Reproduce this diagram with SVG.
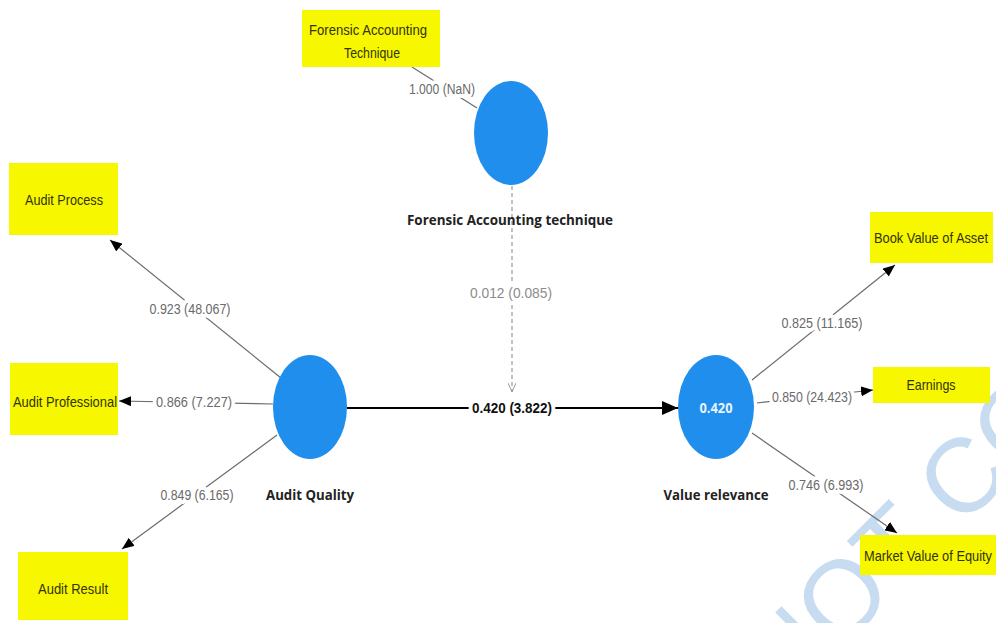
<svg xmlns="http://www.w3.org/2000/svg" width="996" height="623" viewBox="0 0 996 623">
<defs>
<marker id="ah" markerWidth="12" markerHeight="10" refX="12" refY="5" orient="auto" markerUnits="userSpaceOnUse"><path d="M0,0 L12,5 L0,10 z" fill="#000"/></marker>
<marker id="ahm" markerWidth="16" markerHeight="14" refX="16" refY="7" orient="auto" markerUnits="userSpaceOnUse"><path d="M0,0 L16,7 L0,14 z" fill="#000"/></marker>
<marker id="aho" markerWidth="10" markerHeight="8" refX="9" refY="4" orient="auto" markerUnits="userSpaceOnUse"><path d="M0,0 L9,4 L0,8" fill="none" stroke="#999" stroke-width="1"/></marker>
</defs>
<style>
.box{fill:#f7f700}
.bt{font-family:"Liberation Sans",Arial,sans-serif;font-size:15px;fill:#33330a;text-anchor:middle}
.circ{fill:#1f8eec}
.cl{font-family:"Open Sans","Liberation Sans",sans-serif;font-size:15px;font-weight:bold;fill:#222;text-anchor:middle}
.ind{stroke:#6b6b6b;stroke-width:1.2;fill:none}
.wl{font-family:"Liberation Sans",Arial,sans-serif;font-size:14px;fill:#6a6a6a;text-anchor:middle;stroke:#fff;stroke-width:8px;paint-order:stroke;stroke-linejoin:round}
.wm{font-family:"Liberation Sans",Arial,sans-serif;font-size:105px;fill:#c8dcf1}
</style>
<rect width="996" height="623" fill="#fff"/>
<text class="wm" transform="translate(785,705) rotate(-45)">NOT CO</text>

<g id="connectors">
<line class="ind" x1="477" y1="108" x2="412" y2="67"/>
<text class="wl" x="442" y="94" textLength="66" lengthAdjust="spacingAndGlyphs">1.000 (NaN)</text>
<line class="ind" x1="281" y1="378" x2="110" y2="240" marker-end="url(#ah)"/>
<text class="wl" x="190" y="314" textLength="81" lengthAdjust="spacingAndGlyphs">0.923 (48.067)</text>
<line class="ind" x1="273" y1="404" x2="119" y2="401" marker-end="url(#ah)"/>
<text class="wl" x="194" y="407" textLength="76" lengthAdjust="spacingAndGlyphs">0.866 (7.227)</text>
<line class="ind" x1="277" y1="435" x2="122" y2="549" marker-end="url(#ah)"/>
<text class="wl" x="197" y="500" textLength="73" lengthAdjust="spacingAndGlyphs">0.849 (6.165)</text>
<line x1="512" y1="186" x2="512" y2="392" stroke="#9a9a9a" stroke-width="1.2" stroke-dasharray="4,3" marker-end="url(#aho)"/>
<text class="wl" x="511" y="298" textLength="82" lengthAdjust="spacingAndGlyphs" style="fill:#8c8c8c">0.012 (0.085)</text>
<line x1="347" y1="408" x2="678" y2="408" stroke="#000" stroke-width="2" marker-end="url(#ahm)"/>
<text class="wl" x="512" y="413" textLength="80" lengthAdjust="spacingAndGlyphs" style="fill:#111;font-weight:bold">0.420 (3.822)</text>
<line class="ind" x1="752" y1="380" x2="895" y2="265" marker-end="url(#ah)"/>
<text class="wl" x="822" y="328" textLength="81" lengthAdjust="spacingAndGlyphs">0.825 (11.165)</text>
<line class="ind" x1="757" y1="403" x2="873" y2="390" marker-end="url(#ah)"/>
<text class="wl" x="812" y="402" textLength="80" lengthAdjust="spacingAndGlyphs">0.850 (24.423)</text>
<line class="ind" x1="752" y1="433" x2="897" y2="533" marker-end="url(#ah)"/>
<text class="wl" x="826" y="490" textLength="75" lengthAdjust="spacingAndGlyphs">0.746 (6.993)</text>
</g>

<g id="forensic-accounting-technique-indicator">
<rect class="box" x="302" y="10" width="138" height="57"/>
<text class="bt" x="368" y="35" textLength="118" lengthAdjust="spacingAndGlyphs">Forensic Accounting</text>
<text class="bt" x="372" y="58" textLength="56" lengthAdjust="spacingAndGlyphs">Technique</text>
</g>

<g id="forensic-accounting-technique">
<ellipse class="circ" cx="511" cy="133" rx="37" ry="52"/>
<text class="cl" x="510" y="225" textLength="206" lengthAdjust="spacingAndGlyphs">Forensic Accounting technique</text>
</g>

<g id="audit-quality">
<ellipse class="circ" cx="310" cy="407" rx="37" ry="52"/>
<text class="cl" x="310" y="500" textLength="88" lengthAdjust="spacingAndGlyphs">Audit Quality</text>
</g>

<g id="value-relevance">
<ellipse class="circ" cx="716" cy="407" rx="38" ry="52"/>
<text x="716" y="413" text-anchor="middle" font-family="Open Sans, Liberation Sans, sans-serif" font-size="14" font-weight="bold" fill="#e8f2ff" textLength="33" lengthAdjust="spacingAndGlyphs">0.420</text>
<text class="cl" x="716" y="500" textLength="105" lengthAdjust="spacingAndGlyphs">Value relevance</text>
</g>

<g id="audit-process">
<rect class="box" x="9" y="163" width="109" height="72"/>
<text class="bt" x="64" y="205" textLength="78" lengthAdjust="spacingAndGlyphs">Audit Process</text>
</g>

<g id="audit-professional">
<rect class="box" x="10" y="363" width="108" height="72"/>
<text class="bt" x="65" y="407" textLength="104" lengthAdjust="spacingAndGlyphs">Audit Professional</text>
</g>

<g id="audit-result">
<rect class="box" x="18" y="552" width="110" height="68"/>
<text class="bt" x="73" y="594" textLength="70" lengthAdjust="spacingAndGlyphs">Audit Result</text>
</g>

<g id="book-value-of-asset">
<rect class="box" x="870" y="212" width="123" height="51"/>
<text class="bt" x="931" y="243" textLength="114" lengthAdjust="spacingAndGlyphs">Book Value of Asset</text>
</g>

<g id="earnings">
<rect class="box" x="873" y="367" width="117" height="36"/>
<text class="bt" x="931" y="390" textLength="49" lengthAdjust="spacingAndGlyphs">Earnings</text>
</g>

<g id="market-value-of-equity">
<rect class="box" x="860" y="535" width="136" height="40"/>
<text class="bt" x="928" y="561" textLength="128" lengthAdjust="spacingAndGlyphs">Market Value of Equity</text>
</g>
</svg>
